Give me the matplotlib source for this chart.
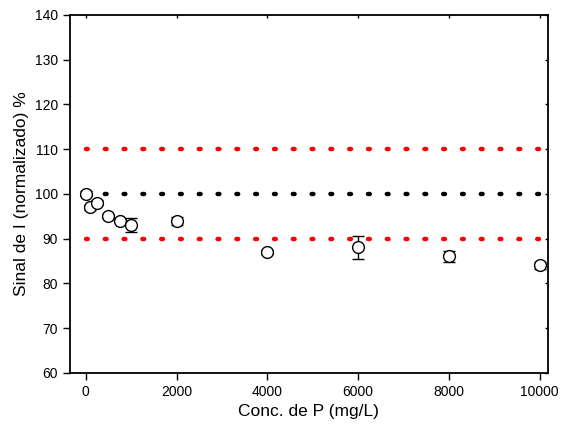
import matplotlib
matplotlib.use('Agg')
import matplotlib.pyplot as plt

plt.rcParams['font.family'] = ['Liberation Sans', 'DejaVu Sans']

conc = [0, 100, 250, 500, 750, 1000, 2000, 4000, 6000, 8000, 10000]
sinal = [100, 97, 98, 95, 94, 93, 94, 87, 88, 86, 84]
erro = [0.6, 0.6, 0.6, 0.5, 0.4, 1.5, 0.9, 0.5, 2.5, 1.3, 0.8]

ref_x = [0, 10000]
ref_mid = [100, 100]
ref_sup = [110, 110]
ref_inf = [90, 90]

fig = plt.figure(figsize=(5.73, 4.36), dpi=100)
ax = fig.add_axes([0.122, 0.145, 0.834, 0.821])

dots = (0, (0.4, 3.83))
ax.plot(ref_x, ref_mid, color='black', lw=3.2, linestyle=dots, dash_capstyle='round')
ax.plot(ref_x, ref_sup, color='red', lw=3.2, linestyle=dots, dash_capstyle='round')
ax.plot(ref_x, ref_inf, color='red', lw=3.2, linestyle=dots, dash_capstyle='round')

ax.errorbar(conc, sinal, yerr=erro, fmt='o', mfc='white', mec='black', ms=8.5,
            mew=1.0, ecolor='black', elinewidth=1.0, capsize=4, capthick=1.0, zorder=5)

ax.set_xlim(-350, 10180)
ax.set_ylim(60, 140)
ax.set_xticks(range(0, 10001, 2000))
ax.set_yticks(range(60, 141, 10))
ax.tick_params(direction='out', length=5, width=1, labelsize=10, colors='black')
for s in ax.spines.values():
    s.set_linewidth(1.3)

# tiny inward ticks on top and right
ax.tick_params(top=True, right=True)
for t in ax.xaxis.get_major_ticks():
    t.tick2line.set_marker(3)
    t.tick2line.set_markersize(2)
for t in ax.yaxis.get_major_ticks():
    t.tick2line.set_marker(0)
    t.tick2line.set_markersize(2)

ax.set_xlabel('Conc. de P (mg/L)', fontsize=12.5)
ax.set_ylabel('Sinal de I (normalizado) %', fontsize=12.5)

fig.savefig('out.png', dpi=100)
